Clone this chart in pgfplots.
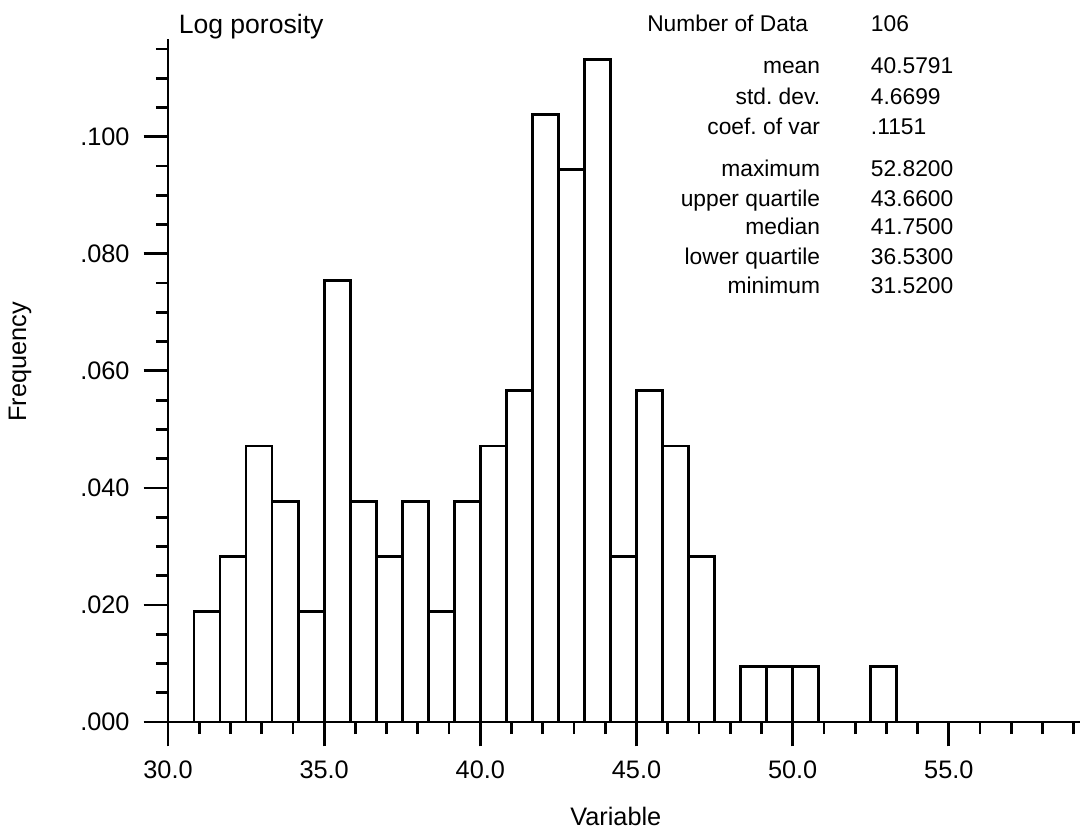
\documentclass[border=0pt]{standalone}
\usepackage{pgfplots}
\pgfplotsset{compat=1.18}
\usepackage{fontspec}
\setmainfont{Liberation Sans}
\frenchspacing

\begin{document}
\begin{tikzpicture}
\begin{axis}[
  name=ax, at={(0,0)}, anchor=south west,
  scale only axis, width=12.667cm, height=9.486cm,
  xmin=30, xmax=59.2, ymin=0, ymax=0.1167,
  axis lines*=left, clip=false,
  axis line style={line width=1.1pt},
  tick style={line width=1.1pt, black},
  tick align=outside,
  major tick length=0.34cm, minor tick length=0.17cm,
  xtick={30,35,40,45,50,55},
  xticklabels={30.0,35.0,40.0,45.0,50.0,55.0},
  minor xtick={31,32,...,59},
  ytick={0,0.02,0.04,0.06,0.08,0.1},
  yticklabels={.000,.020,.040,.060,.080,.100},
  minor ytick={0.005,0.01,0.015,0.025,0.03,0.035,0.045,0.05,0.055,0.065,0.07,0.075,0.085,0.09,0.095,0.105,0.11,0.115},
  tick label style={font=\fontsize{10}{12}\selectfont},
  x tick label style={yshift=-2pt},
  y tick label style={xshift=-2pt},
  /pgf/number format/assume math mode=true,
  xlabel={Variable}, ylabel={Frequency},
  xlabel style={at={(axis description cs:0.491,-0.139)}, anchor=center, font=\fontsize{10}{12}\selectfont},
  ylabel style={at={(axis description cs:-0.1623,0.527)}, anchor=center, font=\fontsize{10}{12}\selectfont},
]
% histogram, bin width 5/6, frequencies = counts/106
\addplot[ybar interval, draw=black, fill=white, line width=1.1pt] coordinates {
  (30.8333,0.01887) (31.6667,0.02830) (32.5,0.04717) (33.3333,0.03774)
  (34.1667,0.01887) (35,0.07547) (35.8333,0.03774) (36.6667,0.02830)
  (37.5,0.03774) (38.3333,0.01887) (39.1667,0.03774) (40,0.04717)
  (40.8333,0.05660) (41.6667,0.10377) (42.5,0.09434) (43.3333,0.11321)
  (44.1667,0.02830) (45,0.05660) (45.8333,0.04717) (46.6667,0.02830)
  (47.5,0) (48.3333,0.00943) (49.1667,0.00943) (50,0.00943)
  (50.8333,0) (51.6667,0) (52.5,0.00943) (53.3333,0.00943)
};

\node[anchor=base west, font=\fontsize{10.5}{12}\selectfont] at (axis description cs:0.002,1.0084) {Log porosity};

\begin{scope}[font=\fontsize{9}{10}\selectfont]
\node[anchor=base east] at (axis description cs:0.7116,1.0107) {Number of Data};
\node[anchor=base west] at (axis description cs:0.761,1.0107) {106};
\node[anchor=base east] at (axis description cs:0.7248,0.9502) {mean};
\node[anchor=base west] at (axis description cs:0.761,0.9502) {40.5791};
\node[anchor=base east] at (axis description cs:0.7248,0.9038) {std. dev.};
\node[anchor=base west] at (axis description cs:0.761,0.9038) {4.6699};
\node[anchor=base east] at (axis description cs:0.7248,0.8599) {coef. of var};
\node[anchor=base west] at (axis description cs:0.761,0.8599) {.1151};
\node[anchor=base east] at (axis description cs:0.7248,0.799) {maximum};
\node[anchor=base west] at (axis description cs:0.761,0.799) {52.8200};
\node[anchor=base east] at (axis description cs:0.7248,0.755) {upper quartile};
\node[anchor=base west] at (axis description cs:0.761,0.755) {43.6600};
\node[anchor=base east] at (axis description cs:0.7248,0.7135) {median};
\node[anchor=base west] at (axis description cs:0.761,0.7135) {41.7500};
\node[anchor=base east] at (axis description cs:0.7248,0.6696) {lower quartile};
\node[anchor=base west] at (axis description cs:0.761,0.6696) {36.5300};
\node[anchor=base east] at (axis description cs:0.7248,0.6281) {minimum};
\node[anchor=base west] at (axis description cs:0.761,0.6281) {31.5200};
\end{scope}
\end{axis}
\pgfresetboundingbox
\path[use as bounding box] (-2.3333cm,-1.4861cm) rectangle (12.6667cm,10.0278cm);
\end{tikzpicture}
\end{document}
